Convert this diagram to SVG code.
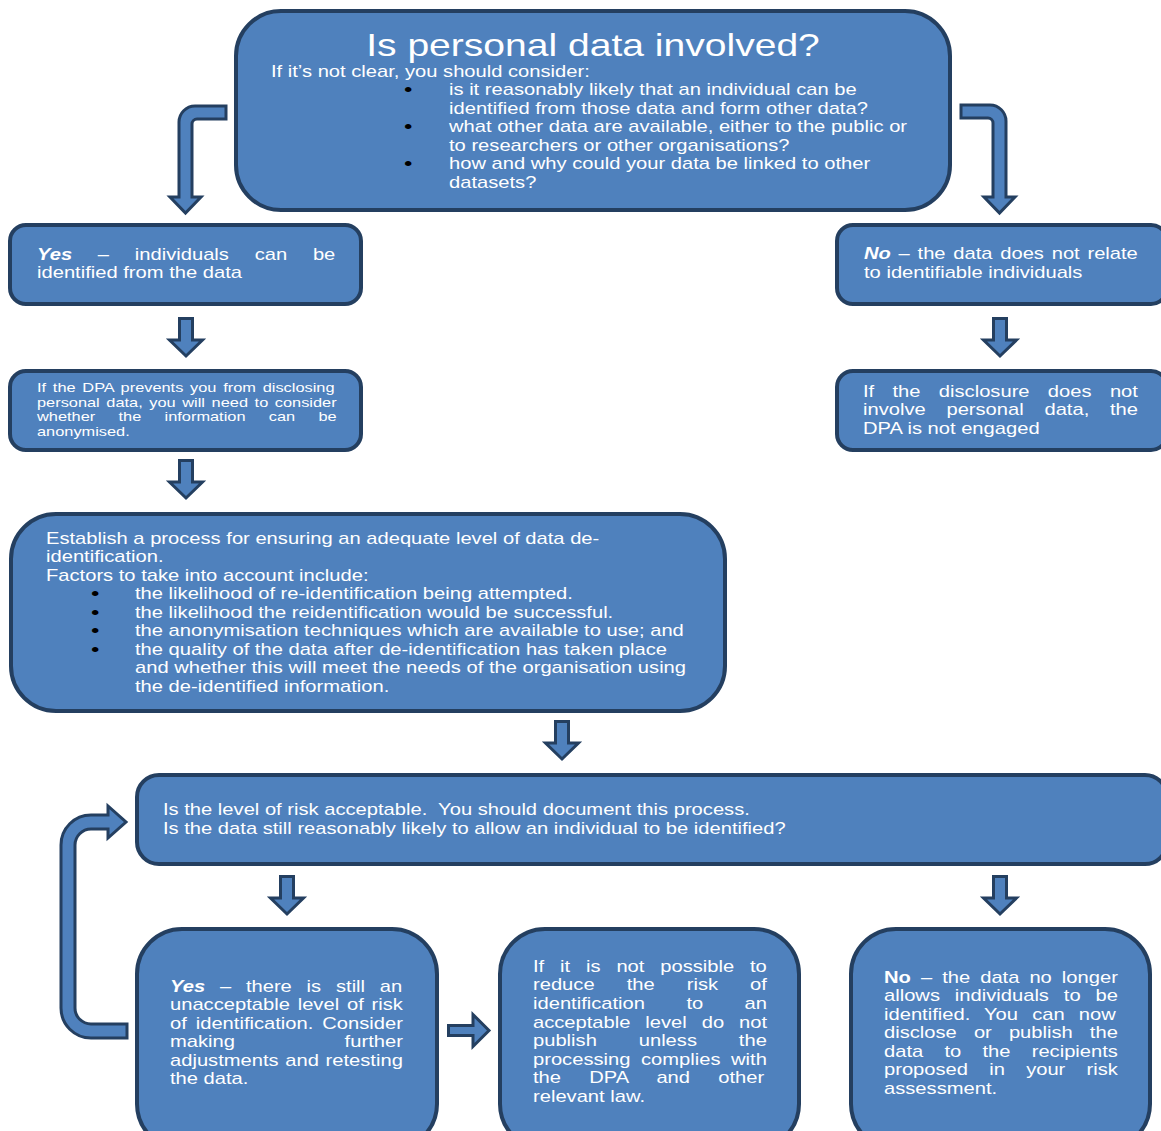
<svg xmlns="http://www.w3.org/2000/svg" width="1161" height="1131" viewBox="0 0 1161 1131">
<style>
.box{fill:#4F81BD;stroke:#243F60;stroke-width:4}
.arr{fill:#4F81BD;stroke:#243F60;stroke-width:3;stroke-linejoin:miter}
.t{font-family:"Liberation Sans",Arial,sans-serif;font-size:16px;fill:#fff}
.ti{font-size:31px}
.s{font-size:13px}
.k{fill:#000;font-size:19px}
.bi{font-weight:bold;font-style:italic}
.bd{font-weight:bold}
</style>
<rect width="1161" height="1131" fill="#fff"/>
<g id="connectors">
<path class="arr" d="M226,106 L195,106 A16,16 0 0 0 179,122 L179,197 L170,197 L185.5,213 L201,197 L192,197 L192,124 A5,5 0 0 1 197,119 L226,119 Z"/>
<path class="arr" d="M961,105 L990,105 A16,16 0 0 1 1006,121 L1006,197 L1015,197 L999.5,213 L984,197 L993,197 L993,123 A5,5 0 0 0 988,118 L961,118 Z"/>
<path class="arr" d="M179.5,318.5 H192.5 V340 H202.5 L186,356 L169.5,340 H179.5 Z"/>
<path class="arr" d="M179.5,460.5 H192.5 V482 H202.5 L186,498 L169.5,482 H179.5 Z"/>
<path class="arr" d="M993.5,318.5 H1006.5 V340 H1016.5 L1000,356 L983.5,340 H993.5 Z"/>
<path class="arr" d="M555.5,721.5 H568.5 V743 H578.5 L562,759 L545.5,743 H555.5 Z"/>
<path class="arr" d="M280.5,876.5 H293.5 V898 H303.5 L287,914 L270.5,898 H280.5 Z"/>
<path class="arr" d="M993.5,876.5 H1006.5 V898 H1016.5 L1000,914 L983.5,898 H993.5 Z"/>
<path class="arr" d="M448.5,1025.5 H473 V1014.5 L489,1030.5 L473,1046.5 V1035.5 H448.5 Z"/>
<path class="arr" d="M127,1038 L91,1038 A30,30 0 0 1 61,1008 L61,845 A30,30 0 0 1 91,815 L108,815 L108,806 L126,822 L108,838 L108,829 L91,829 A16,16 0 0 0 75,845 L75,1008 A16,16 0 0 0 91,1024 L127,1024 Z"/>
</g>
<g id="n-personal">
<rect class="box" x="236" y="11" width="714" height="199" rx="45"/>
<text class="t ti" text-anchor="middle" transform="matrix(1.26 0 0 1 593 56)">Is personal data involved?</text>
<text class="t" transform="matrix(1.26 0 0 1 271 77)">If it’s not clear, you should consider:</text>
<text class="t k" transform="matrix(1.26 0 0 1 404 96)">•</text>
<text class="t k" transform="matrix(1.26 0 0 1 404 133)">•</text>
<text class="t k" transform="matrix(1.26 0 0 1 404 170)">•</text>
<text class="t" transform="matrix(1.26 0 0 1 449 95)">is it reasonably likely that an individual can be</text>
<text class="t" transform="matrix(1.26 0 0 1 449 114)">identified from those data and form other data?</text>
<text class="t" transform="matrix(1.26 0 0 1 449 132)">what other data are available, either to the public or</text>
<text class="t" transform="matrix(1.26 0 0 1 449 151)">to researchers or other organisations?</text>
<text class="t" transform="matrix(1.26 0 0 1 449 169)">how and why could your data be linked to other</text>
<text class="t" transform="matrix(1.26 0 0 1 449 188)">datasets?</text>
</g>
<g id="n-yes">
<rect class="box" x="10" y="225" width="351" height="79" rx="16"/>
<text class="t" word-spacing="16" transform="matrix(1.26 0 0 1 37 260)"><tspan class="bi">Yes</tspan> – individuals can be</text>
<text class="t" transform="matrix(1.26 0 0 1 37 278)">identified from the data</text>
</g>
<g id="n-no">
<rect class="box" x="837" y="225" width="330" height="79" rx="16"/>
<text class="t" word-spacing="1.7" transform="matrix(1.26 0 0 1 864 259)"><tspan class="bi">No</tspan> – the data does not relate</text>
<text class="t" transform="matrix(1.26 0 0 1 864 278)">to identifiable individuals</text>
</g>
<g id="n-dpa">
<rect class="box" x="10" y="371" width="351" height="79" rx="16"/>
<text class="t s" word-spacing="1.75" transform="matrix(1.26 0 0 1 37 392)">If the DPA prevents you from disclosing</text>
<text class="t s" word-spacing="1.63" transform="matrix(1.26 0 0 1 37 407)">personal data, you will need to consider</text>
<text class="t s" word-spacing="14.9" transform="matrix(1.26 0 0 1 37 421)">whether the information can be</text>
<text class="t s" transform="matrix(1.26 0 0 1 37 436)">anonymised.</text>
</g>
<g id="n-not-engaged">
<rect class="box" x="837" y="371" width="330" height="79" rx="16"/>
<text class="t" word-spacing="10.1" transform="matrix(1.26 0 0 1 863 397)">If the disclosure does not</text>
<text class="t" word-spacing="12" transform="matrix(1.26 0 0 1 863 415)">involve personal data, the</text>
<text class="t" transform="matrix(1.26 0 0 1 863 434)">DPA is not engaged</text>
</g>
<g id="n-process">
<rect class="box" x="11" y="514" width="714" height="197" rx="45"/>
<text class="t" transform="matrix(1.26 0 0 1 46 544)">Establish a process for ensuring an adequate level of data de-</text>
<text class="t" transform="matrix(1.26 0 0 1 46 562)">identification.</text>
<text class="t" transform="matrix(1.26 0 0 1 46 581)">Factors to take into account include:</text>
<text class="t k" transform="matrix(1.26 0 0 1 91 600)">•</text>
<text class="t k" transform="matrix(1.26 0 0 1 91 619)">•</text>
<text class="t k" transform="matrix(1.26 0 0 1 91 637)">•</text>
<text class="t k" transform="matrix(1.26 0 0 1 91 656)">•</text>
<text class="t" transform="matrix(1.26 0 0 1 135 599)">the likelihood of re-identification being attempted.</text>
<text class="t" transform="matrix(1.26 0 0 1 135 618)">the likelihood the reidentification would be successful.</text>
<text class="t" transform="matrix(1.26 0 0 1 135 636)">the anonymisation techniques which are available to use; and</text>
<text class="t" transform="matrix(1.26 0 0 1 135 655)">the quality of the data after de-identification has taken place</text>
<text class="t" transform="matrix(1.26 0 0 1 135 673)">and whether this will meet the needs of the organisation using</text>
<text class="t" transform="matrix(1.26 0 0 1 135 692)">the de-identified information.</text>
</g>
<g id="n-risk">
<rect class="box" x="137" y="775" width="1030" height="89" rx="22"/>
<text class="t" transform="matrix(1.26 0 0 1 163 815)">Is the level of risk acceptable.&#160; You should document this process.</text>
<text class="t" transform="matrix(1.26 0 0 1 163 834)">Is the data still reasonably likely to allow an individual to be identified?</text>
</g>
<g id="n-yes-risk">
<rect class="box" x="137" y="929" width="300" height="220" rx="45"/>
<text class="t" word-spacing="7.3" transform="matrix(1.26 0 0 1 170 992)"><tspan class="bi">Yes</tspan> – there is still an</text>
<text class="t" word-spacing="1.77" transform="matrix(1.26 0 0 1 170 1010)">unacceptable level of risk</text>
<text class="t" word-spacing="2.65" transform="matrix(1.26 0 0 1 170 1029)">of identification. Consider</text>
<text class="t" word-spacing="82.6" transform="matrix(1.26 0 0 1 170 1047)">making further</text>
<text class="t" word-spacing="0.85" transform="matrix(1.26 0 0 1 170 1066)">adjustments and retesting</text>
<text class="t" transform="matrix(1.26 0 0 1 170 1084)">the data.</text>
</g>
<g id="n-not-possible">
<rect class="box" x="500" y="929" width="299" height="220" rx="45"/>
<text class="t" word-spacing="8.14" transform="matrix(1.26 0 0 1 533 972)">If it is not possible to</text>
<text class="t" word-spacing="21" transform="matrix(1.26 0 0 1 533 990)">reduce the risk of</text>
<text class="t" word-spacing="28.4" transform="matrix(1.26 0 0 1 533 1009)">identification to an</text>
<text class="t" word-spacing="7.4" transform="matrix(1.26 0 0 1 533 1028)">acceptable level do not</text>
<text class="t" word-spacing="28.8" transform="matrix(1.26 0 0 1 533 1046)">publish unless the</text>
<text class="t" word-spacing="3.95" transform="matrix(1.26 0 0 1 533 1065)">processing complies with</text>
<text class="t" word-spacing="18" transform="matrix(1.26 0 0 1 533 1083)">the DPA and other</text>
<text class="t" transform="matrix(1.26 0 0 1 533 1102)">relevant law.</text>
</g>
<g id="n-no-risk">
<rect class="box" x="851" y="929" width="299" height="220" rx="45"/>
<text class="t" word-spacing="3.52" transform="matrix(1.26 0 0 1 884 983)"><tspan class="bd">No</tspan> – the data no longer</text>
<text class="t" word-spacing="7.37" transform="matrix(1.26 0 0 1 884 1001)">allows individuals to be</text>
<text class="t" word-spacing="6.77" transform="matrix(1.26 0 0 1 884 1020)">identified. You can now</text>
<text class="t" word-spacing="9.13" transform="matrix(1.26 0 0 1 884 1038)">disclose or publish the</text>
<text class="t" word-spacing="12.4" transform="matrix(1.26 0 0 1 884 1057)">data to the recipients</text>
<text class="t" word-spacing="12.4" transform="matrix(1.26 0 0 1 884 1075)">proposed in your risk</text>
<text class="t" transform="matrix(1.26 0 0 1 884 1094)">assessment.</text>
</g>
</svg>
